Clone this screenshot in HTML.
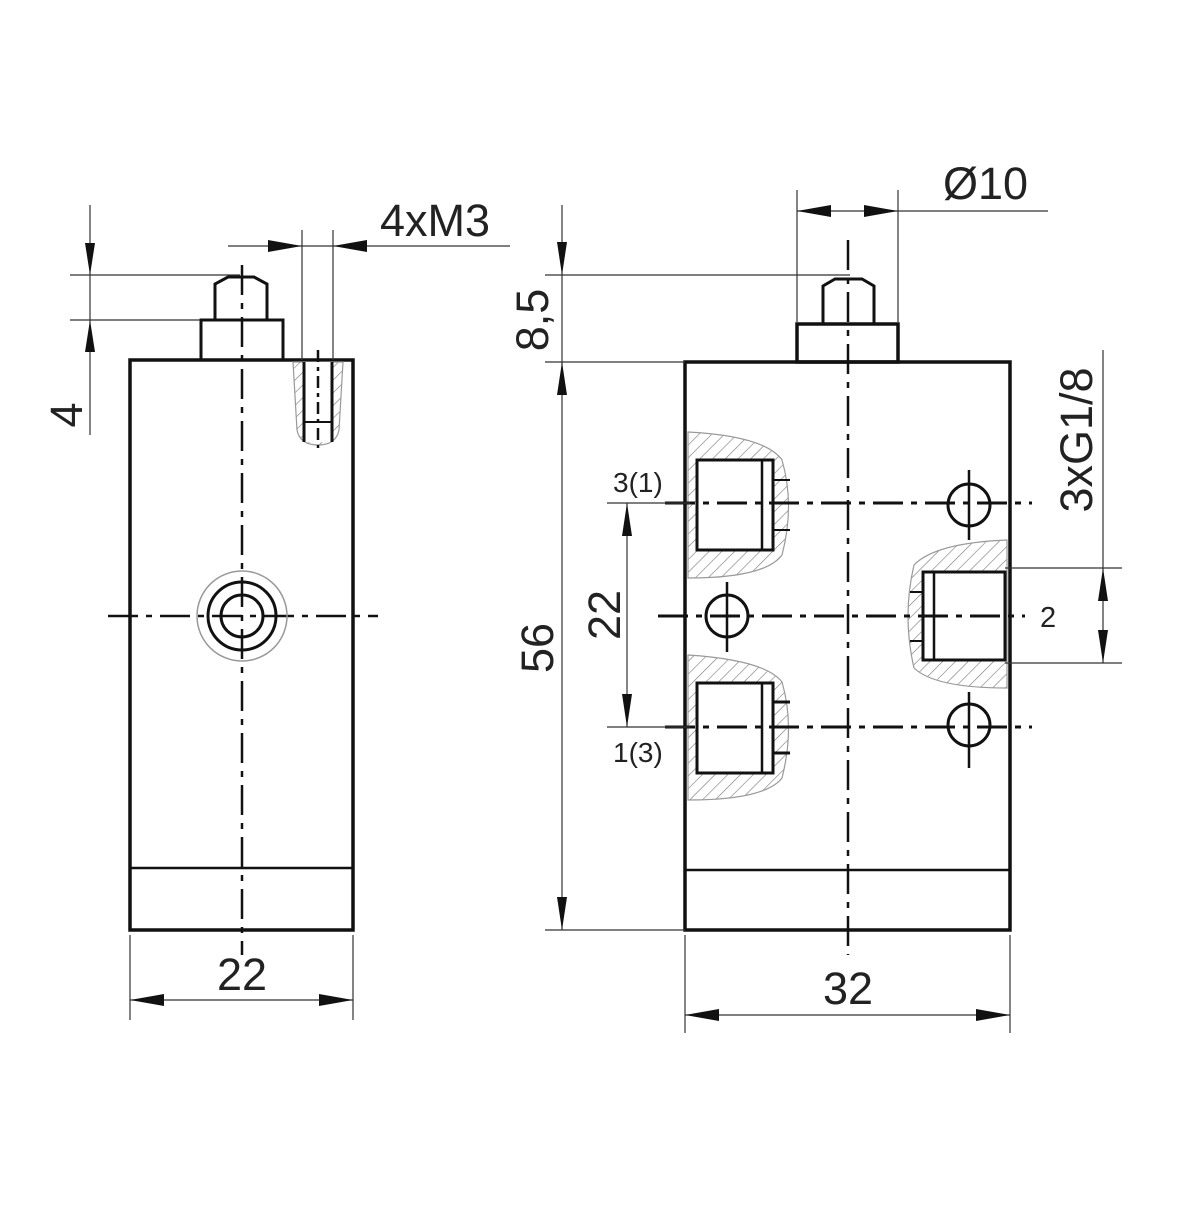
<!DOCTYPE html>
<html><head><style>html,body{margin:0;padding:0;background:#fff}</style></head>
<body>
<svg width="1200" height="1200" viewBox="0 0 1200 1200" xmlns="http://www.w3.org/2000/svg" font-family="Liberation Sans, sans-serif">
<defs>
<pattern id="h" width="9" height="9" patternUnits="userSpaceOnUse" patternTransform="rotate(45)">
<line x1="0" y1="0" x2="0" y2="9" stroke="#777" stroke-width="1.2"/>
</pattern>
</defs>
<g fill="none" stroke="#111">
<rect x="130" y="360" width="223" height="570" stroke-width="3.5"/>
<line x1="130" y1="868" x2="353" y2="868" stroke-width="2.5"/>
<rect x="201" y="320" width="82" height="40" stroke-width="3"/>
<path d="M215 320 V284 L228 277 H254 L267 284 V320" stroke-width="3"/>
<line x1="242" y1="265" x2="242" y2="955" stroke-width="2.5" stroke-dasharray="30,8,6,8"/>
<line x1="108" y1="616" x2="378" y2="616" stroke-width="2.5" stroke-dasharray="30,8,6,8"/>
<circle cx="242" cy="616" r="45" stroke="#999" stroke-width="1.5"/>
<circle cx="242" cy="616" r="34" stroke-width="3"/>
<circle cx="242" cy="616" r="21" stroke-width="3"/>
<path d="M293 362 L297 430 Q300 445 318 445 Q336 445 339 430 L343 362 Z" fill="url(#h)" stroke="#999" stroke-width="1.2"/>
<rect x="303" y="362" width="30" height="80" fill="#fff" stroke="none"/>
<line x1="304" y1="362" x2="304" y2="442" stroke-width="3"/>
<line x1="332" y1="362" x2="332" y2="442" stroke-width="3"/>
<line x1="318" y1="350" x2="318" y2="448" stroke-width="2.5" stroke-dasharray="12,5,4,5"/>
<line x1="303" y1="422" x2="333" y2="422" stroke-width="2"/>
<g stroke-width="1.2" stroke="#333">
<line x1="70" y1="275" x2="240" y2="275"/>
<line x1="70" y1="320" x2="200" y2="320"/>
<line x1="90" y1="205" x2="90" y2="435"/>
<line x1="302" y1="230" x2="302" y2="360"/>
<line x1="333" y1="230" x2="333" y2="360"/>
<line x1="228" y1="246" x2="510" y2="246"/>
<line x1="130" y1="935" x2="130" y2="1020"/>
<line x1="353" y1="935" x2="353" y2="1020"/>
<line x1="130" y1="1000" x2="353" y2="1000"/>
</g>
<rect x="685" y="362" width="325" height="568" stroke-width="3.5"/>
<line x1="685" y1="870" x2="1010" y2="870" stroke-width="2.5"/>
<rect x="797" y="324" width="101" height="38" stroke-width="3.5"/>
<path d="M823 324 V286 L835 279 H862 L874 286 V324" stroke-width="3"/>
<line x1="848" y1="240" x2="848" y2="955" stroke-width="2.5" stroke-dasharray="30,8,6,8"/>
<path d="M688 432 Q765 436 782 460 Q795 505 782 555 Q765 578 688 578 Z" fill="url(#h)" stroke="#999" stroke-width="1.2"/>
<path d="M688 655 Q765 660 782 682 Q795 727 782 778 Q765 800 688 800 Z" fill="url(#h)" stroke="#999" stroke-width="1.2"/>
<path d="M1007 540 Q935 543 914 565 Q902 616 914 668 Q935 688 1007 688 Z" fill="url(#h)" stroke="#999" stroke-width="1.2"/>
<rect x="697" y="460" width="76" height="90" fill="#fff" stroke-width="3"/>
<line x1="762" y1="460" x2="762" y2="550" stroke-width="2.5"/>
<line x1="773" y1="480" x2="790" y2="480" stroke-width="2"/><line x1="773" y1="530" x2="790" y2="530" stroke-width="2"/>
<rect x="697" y="683" width="76" height="90" fill="#fff" stroke-width="3"/>
<line x1="762" y1="683" x2="762" y2="773" stroke-width="2.5"/>
<line x1="773" y1="702" x2="790" y2="702" stroke-width="3"/><line x1="773" y1="753" x2="790" y2="753" stroke-width="3"/>
<rect x="923" y="572" width="82" height="88" fill="#fff" stroke-width="3"/>
<line x1="934" y1="572" x2="934" y2="660" stroke-width="2.5"/>
<line x1="910" y1="592" x2="923" y2="592" stroke-width="2"/><line x1="910" y1="641" x2="923" y2="641" stroke-width="2"/>
<line x1="665" y1="503" x2="1032" y2="503" stroke-width="3" stroke-dasharray="30,8,6,8"/>
<line x1="665" y1="727" x2="1032" y2="727" stroke-width="3" stroke-dasharray="30,8,6,8"/>
<line x1="658" y1="616" x2="1025" y2="616" stroke-width="3" stroke-dasharray="30,8,6,8"/>
<circle cx="969" cy="505" r="21" stroke-width="3"/>
<line x1="969" y1="470" x2="969" y2="540" stroke-width="2.5"/>
<circle cx="727" cy="616" r="21" stroke-width="3"/>
<line x1="727" y1="582" x2="727" y2="652" stroke-width="2.5"/>
<circle cx="969" cy="725" r="21" stroke-width="3"/>
<line x1="969" y1="692" x2="969" y2="768" stroke-width="2.5"/>
<g stroke-width="1.2" stroke="#333">
<line x1="797" y1="190" x2="797" y2="322"/>
<line x1="898" y1="190" x2="898" y2="322"/>
<line x1="797" y1="211" x2="1048" y2="211"/>
<line x1="545" y1="275" x2="850" y2="275"/>
<line x1="545" y1="362" x2="685" y2="362"/>
<line x1="545" y1="930" x2="685" y2="930"/>
<line x1="562" y1="205" x2="562" y2="930"/>
<line x1="607" y1="503" x2="690" y2="503"/>
<line x1="607" y1="727" x2="690" y2="727"/>
<line x1="627" y1="503" x2="627" y2="727"/>
<line x1="1005" y1="568" x2="1122" y2="568"/>
<line x1="1005" y1="663" x2="1122" y2="663"/>
<line x1="1103" y1="350" x2="1103" y2="663"/>
<line x1="685" y1="935" x2="685" y2="1033"/>
<line x1="1010" y1="935" x2="1010" y2="1033"/>
<line x1="685" y1="1015" x2="1010" y2="1015"/>
</g>
</g>
<g fill="#111">
<path d="M90 275 l-5 -32 h10 z"/>
<path d="M90 320 l-5 32 h10 z"/>
<path d="M302 246 l-34 -6 v12 z"/>
<path d="M333 246 l34 -6 v12 z"/>
<path d="M130 1000 l34 -6 v12 z"/>
<path d="M353 1000 l-34 -6 v12 z"/>
<path d="M797 211 l34 -6 v12 z"/>
<path d="M898 211 l-34 -6 v12 z"/>
<path d="M562 275 l-5 -33 h10 z"/>
<path d="M562 362 l-5 33 h10 z"/>
<path d="M562 930 l-5 -33 h10 z"/>
<path d="M627 503 l-5 33 h10 z"/>
<path d="M627 727 l-5 -33 h10 z"/>
<path d="M1103 568 l-5 33 h10 z"/>
<path d="M1103 663 l-5 -33 h10 z"/>
<path d="M685 1015 l34 -6 v12 z"/>
<path d="M1010 1015 l-34 -6 v12 z"/>
</g>
<g fill="#222" font-size="45">
<text x="380" y="236">4xM3</text>
<text x="242" y="990" text-anchor="middle">22</text>
<text x="848" y="1004" text-anchor="middle">32</text>
<text x="943" y="199">Ø10</text>
<text transform="translate(82,415) rotate(-90)" text-anchor="middle">4</text>
<text transform="translate(548,320) rotate(-90)" text-anchor="middle">8,5</text>
<text transform="translate(553,648) rotate(-90)" text-anchor="middle">56</text>
<text transform="translate(620,615) rotate(-90)" text-anchor="middle">22</text>
<text transform="translate(1092,440) rotate(-90)" text-anchor="middle">3xG1/8</text>
<text x="613" y="492" font-size="28">3(1)</text>
<text x="613" y="762" font-size="28">1(3)</text>
<text x="1040" y="627" font-size="29">2</text>
</g>
</svg>
</body></html>
